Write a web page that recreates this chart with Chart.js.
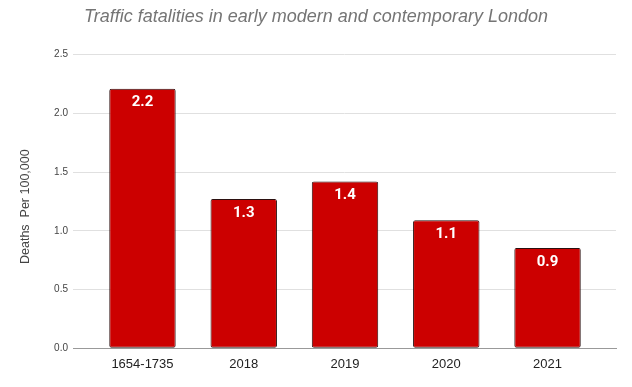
<!DOCTYPE html>
<html>
<head>
<meta charset="utf-8">
<script src="https://cdn.jsdelivr.net/npm/chart.js@4"></script>
<style>
html,body{margin:0;padding:0;background:#fff;}
#wrap{width:632px;height:387px;position:relative;}
</style>
</head>
<body>
<div id="wrap"><canvas id="c" width="632" height="387"></canvas></div>
<script>
const categories = ["1654-1735", "2018", "2019", "2020", "2021"];
const deathsPer100k = [2.21, 1.27, 1.42, 1.09, 0.854];
const yTicks = [0, 0.5, 1.0, 1.5, 2.0, 2.5];
const chartTitle = "Traffic fatalities in early modern and contemporary London";
const yAxisTitle = "Deaths  Per 100,000   ";

const points = categories.map((c, i) => ({x: i, y: deathsPer100k[i]}));

const barLabels = {
  id: 'barLabels',
  afterDatasetsDraw(chart) {
    const ctx = chart.ctx;
    const meta = chart.getDatasetMeta(0);
    ctx.save();
    ctx.fillStyle = '#ffffff';
    ctx.font = 'bold 15px Roboto, "Liberation Sans", sans-serif';
    ctx.textAlign = 'center';
    ctx.textBaseline = 'middle';
    meta.data.forEach((bar, i) => {
      ctx.fillText(deathsPer100k[i].toFixed(1), bar.x, bar.y + 14);
    });
    ctx.restore();
  }
};

new Chart(document.getElementById('c'), {
  type: 'bar',
  data: {
    datasets: [{
      data: points,
      backgroundColor: '#cc0000',
      borderColor: '#2b1010',
      borderWidth: 1,
      borderRadius: 2,
      borderSkipped: false,
      barPercentage: 0.656,
      categoryPercentage: 1.0
    }]
  },
  options: {
    responsive: false,
    animation: false,
    devicePixelRatio: 1,
    layout: {padding: {left: 8, right: 8, top: 0, bottom: 0}},
    plugins: {
      legend: {display: false},
      tooltip: {enabled: false},
      title: {
        display: true,
        text: chartTitle,
        color: '#757575',
        font: {family: '"Liberation Sans", Arial, sans-serif', size: 18, style: 'italic', weight: 'normal'},
        padding: {top: 6, bottom: 27}
      }
    },
    scales: {
      x: {
        type: 'linear',
        offset: false,
        min: -0.686,
        max: 4.676,
        afterBuildTicks(scale) {
          scale.ticks = categories.map((c, i) => ({value: i}));
        },
        afterFit(scale) { scale.height = 38.7; },
        ticks: {
          autoSkip: false,
          maxRotation: 0,
          color: '#222222',
          font: {family: '"Liberation Sans", Arial, sans-serif', size: 13},
          padding: 8,
          callback: (v) => categories[v] !== undefined ? categories[v] : ''
        },
        grid: {display: false, drawTicks: false},
        border: {color: '#999999', width: 1}
      },
      y: {
        min: 0,
        max: 2.5,
        afterBuildTicks(scale) {
          scale.ticks = yTicks.map(v => ({value: v}));
        },
        afterFit(scale) { scale.width = 65; },
        ticks: {
          color: '#444444',
          font: {family: '"Liberation Sans", Arial, sans-serif', size: 10},
          padding: 5,
          callback: (v) => Number(v).toFixed(1)
        },
        grid: {color: '#e0e0e0', drawTicks: false, lineWidth: 1},
        border: {display: false},
        title: {
          display: true,
          text: yAxisTitle,
          color: '#444444',
          font: {family: '"Liberation Sans", Arial, sans-serif', size: 12.5},
          padding: {top: 10, bottom: 0}
        }
      },
      yRight: {
        position: 'right',
        display: true,
        min: 0,
        max: 1,
        afterFit(scale) { scale.width = 8; },
        ticks: {display: false},
        grid: {display: false, drawTicks: false},
        border: {display: false}
      }
    }
  },
  plugins: [barLabels]
});
</script>
</body>
</html>
